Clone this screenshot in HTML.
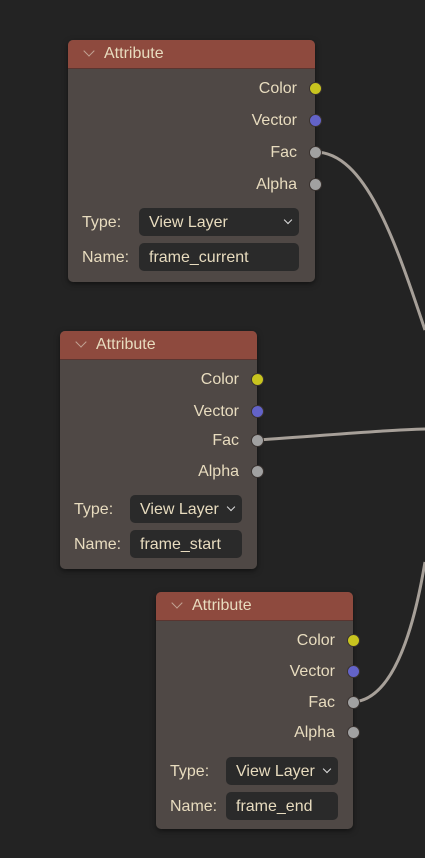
<!DOCTYPE html>
<html><head><style>
body{margin:0;width:425px;height:858px;background:#232323;overflow:hidden;position:relative;font-family:"Liberation Sans",sans-serif;color:#e8dcbf;font-size:16px}
.n{position:absolute;width:247px;background:#4f4845;border-radius:5px;box-shadow:0 2px 6px rgba(0,0,0,.5)}
.h{height:28px;background:#8e4a3e;border-radius:5px 5px 0 0;border-bottom:1px solid #5a3530;position:relative}
.h span{position:absolute;left:36px;top:5px;font-size:16px}
.h i{position:absolute;left:17px;top:7px;width:7px;height:7px;border-right:1.5px solid #d8c8b8;border-bottom:1.5px solid #d8c8b8;transform:rotate(45deg);opacity:.7}
.r{position:absolute;right:18px;font-size:16px;text-align:right}
.s{position:absolute;right:-7px;width:11px;height:11px;border-radius:50%;border:1.5px solid #3a3330}
.lb{position:absolute;left:14px;font-size:16px}
.f{position:absolute;height:28px;background:#2a2a2a;border-radius:5px;font-size:16px;line-height:30px;padding-left:10px;box-sizing:border-box}
.f b{position:absolute;right:8px;top:9px;width:5px;height:5px;border-right:1.5px solid #ddd;border-bottom:1.5px solid #ddd;transform:rotate(45deg);font-weight:normal}
</style></head><body>
<svg width="425" height="858" style="position:absolute;left:0;top:0">
<g fill="none" stroke="#a7a099" stroke-width="3">
<path d="M315,152 C365,152 395,240 425,330"/>
<path d="M257,440 C320,436 380,430 425,429"/>
<path d="M353,702 C390,700 412,640 425,562"/>
</g></svg>

<div class="n" style="left:68px;top:40px;height:242px">
<div class="h"><i></i><span>Attribute</span></div>
<div class="r" style="top:40px">Color</div><div class="s" style="top:42px;background:#c8c41f"></div>
<div class="r" style="top:72px">Vector</div><div class="s" style="top:74px;background:#6363c8"></div>
<div class="r" style="top:104px">Fac</div><div class="s" style="top:106px;background:#a1a1a1"></div>
<div class="r" style="top:136px">Alpha</div><div class="s" style="top:138px;background:#a1a1a1"></div>
<div class="lb" style="top:174px">Type:</div><div class="f" style="left:71px;top:168px;width:160px">View Layer<b></b></div>
<div class="lb" style="top:209px">Name:</div><div class="f" style="left:71px;top:203px;width:160px">frame_current</div>
</div>

<div class="n" style="left:60px;top:331px;height:238px;width:197px">
<div class="h"><i></i><span>Attribute</span></div>
<div class="r" style="top:40px">Color</div><div class="s" style="top:42px;background:#c8c41f"></div>
<div class="r" style="top:72px">Vector</div><div class="s" style="top:74px;background:#6363c8"></div>
<div class="r" style="top:101px">Fac</div><div class="s" style="top:103px;background:#a1a1a1"></div>
<div class="r" style="top:132px">Alpha</div><div class="s" style="top:134px;background:#a1a1a1"></div>
<div class="lb" style="top:170px">Type:</div><div class="f" style="left:70px;top:164px;width:112px">View Layer<b></b></div>
<div class="lb" style="top:205px">Name:</div><div class="f" style="left:70px;top:199px;width:112px">frame_start</div>
</div>

<div class="n" style="left:156px;top:592px;height:237px;width:197px">
<div class="h"><i></i><span>Attribute</span></div>
<div class="r" style="top:40px">Color</div><div class="s" style="top:42px;background:#c8c41f"></div>
<div class="r" style="top:71px">Vector</div><div class="s" style="top:73px;background:#6363c8"></div>
<div class="r" style="top:102px">Fac</div><div class="s" style="top:104px;background:#a1a1a1"></div>
<div class="r" style="top:132px">Alpha</div><div class="s" style="top:134px;background:#a1a1a1"></div>
<div class="lb" style="top:171px">Type:</div><div class="f" style="left:70px;top:165px;width:112px">View Layer<b></b></div>
<div class="lb" style="top:206px">Name:</div><div class="f" style="left:70px;top:200px;width:112px">frame_end</div>
</div>
</body></html>
